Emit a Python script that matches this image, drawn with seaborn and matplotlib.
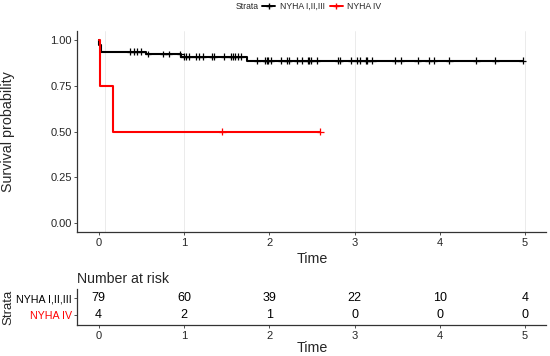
import numpy as np
import pandas as pd
import matplotlib
matplotlib.use("Agg")
import matplotlib.pyplot as plt
from matplotlib.lines import Line2D
import seaborn as sns

# Kaplan-Meier steps
strata = ["NYHA I,II,III", "NYHA IV"]
colors = ["black", "#FF0000"]

t_123 = [0.0, 0.01, 0.03, 0.56, 0.97, 1.74, 4.97]
s_123 = [1.0, 0.975, 0.937, 0.923, 0.908, 0.886, 0.886]
cens_123 = [0.37, 0.41, 0.45, 0.50, 0.58, 0.76, 0.82, 0.96, 1.00, 1.03, 1.06,
            1.14, 1.18, 1.22, 1.33, 1.35, 1.47, 1.55, 1.57, 1.60, 1.63, 1.67,
            1.86, 1.95, 1.97, 1.99, 2.02, 2.14, 2.21, 2.23, 2.33, 2.38, 2.45,
            2.47, 2.49, 2.56, 2.81, 2.83, 2.96, 3.03, 3.06, 3.14, 3.15, 3.21,
            3.48, 3.54, 3.74, 3.87, 3.93, 4.11, 4.43, 4.65, 4.97]

t_4 = [0.0, 0.02, 0.17, 2.6]
s_4 = [1.0, 0.75, 0.5, 0.5]
cens_4 = [1.45, 2.6]

risk_times = [0, 1, 2, 3, 4, 5]
risk_123 = [79, 60, 39, 22, 10, 4]
risk_4 = [4, 2, 1, 0, 0, 0]

grid_x = [0.08, 1, 3, 5]


def surv_at(times, surv, c):
    idx = np.searchsorted(times, c, side="right") - 1
    return np.asarray(surv)[idx]


curves = pd.concat([
    pd.DataFrame({"time": t_123, "surv": s_123, "strata": strata[0]}),
    pd.DataFrame({"time": t_4, "surv": s_4, "strata": strata[1]}),
])
cens = pd.concat([
    pd.DataFrame({"time": cens_123, "surv": surv_at(t_123, s_123, cens_123), "strata": strata[0]}),
    pd.DataFrame({"time": cens_4, "surv": surv_at(t_4, s_4, cens_4), "strata": strata[1]}),
])
pal = dict(zip(strata, colors))

sns.set_theme(style="white")
plt.rcParams["font.family"] = ["Liberation Sans", "DejaVu Sans"]

fig = plt.figure(figsize=(5.5, 3.56), dpi=100)
ax = fig.add_axes([0.1405, 0.347, 0.853, 0.5665])
tab = fig.add_axes([0.1405, 0.0862, 0.853, 0.1006])

axis_col = "#333333"

# --- survival curves
for gx in grid_x:
    ax.axvline(gx, color="#E8E8E8", lw=0.6, zorder=0)
sns.lineplot(data=curves, x="time", y="surv", hue="strata", palette=pal,
             drawstyle="steps-post", estimator=None, sort=False,
             linewidth=1.5, legend=False, ax=ax)
sns.scatterplot(data=cens, x="time", y="surv", hue="strata", palette=pal,
                marker="+", s=24, linewidth=0.9, legend=False, ax=ax, zorder=4)

ax.set_xlim(-0.25, 5.25)
ax.set_ylim(-0.05, 1.05)
ax.set_xticks(risk_times)
ax.set_yticks([0, 0.25, 0.5, 0.75, 1.0])
ax.set_yticklabels(["0.00", "0.25", "0.50", "0.75", "1.00"])
ax.set_xlabel("Time", fontsize=10.3)
ax.set_ylabel("Survival probability", fontsize=10.3)
ax.xaxis.set_label_coords(0.5, -0.095)
ax.yaxis.set_label_coords(-0.133, 0.5)
for sp in ["top", "right"]:
    ax.spines[sp].set_visible(False)
for sp in ["left", "bottom"]:
    ax.spines[sp].set_color(axis_col)
    ax.spines[sp].set_linewidth(0.9)
ax.tick_params(axis="both", labelsize=8, length=2.5, width=0.6,
               color=axis_col, pad=1.5, bottom=True, left=True)

# --- legend on top
fig.text(0.428, 0.981, "Strata", fontsize=6.2, ha="left", va="center")
handles = [Line2D([], [], color=c, lw=1.4, marker="+", markersize=5, markeredgewidth=1)
           for c in colors]
fig.legend(handles, strata, loc="center left", bbox_to_anchor=(0.477, 0.981),
           ncol=2, frameon=False, fontsize=6.2, handlelength=1.5,
           handletextpad=0.5, columnspacing=0.6, borderpad=0, borderaxespad=0)

# --- risk table
for t, a, b in zip(risk_times, risk_123, risk_4):
    tab.text(t, 2, str(a), ha="center", va="center", fontsize=9, color="black")
    tab.text(t, 1, str(b), ha="center", va="center", fontsize=9, color="black")
tab.set_xlim(-0.25, 5.25)
tab.set_ylim(0.4, 2.5)
tab.set_xticks(risk_times)
tab.set_yticks([2, 1])
tab.set_yticklabels(strata)
for lab, c in zip(tab.get_yticklabels(), colors):
    lab.set_color(c)
tab.set_xlabel("Time", fontsize=10.3, labelpad=0)
tab.set_ylabel("Strata", fontsize=9.5)
tab.yaxis.set_label_coords(-0.133, 0.5)
tab.set_title("Number at risk", fontsize=10.2, loc="left", pad=5)
for sp in ["top", "right"]:
    tab.spines[sp].set_visible(False)
for sp in ["left", "bottom"]:
    tab.spines[sp].set_color(axis_col)
    tab.spines[sp].set_linewidth(0.9)
tab.tick_params(axis="x", labelsize=8, length=2.5, width=0.6, color=axis_col,
                pad=1.5, bottom=True)
tab.tick_params(axis="y", labelsize=7.7, length=2.5, width=0.6, color=axis_col,
                pad=1.5, left=True)

fig.savefig("out.png", dpi=100)
